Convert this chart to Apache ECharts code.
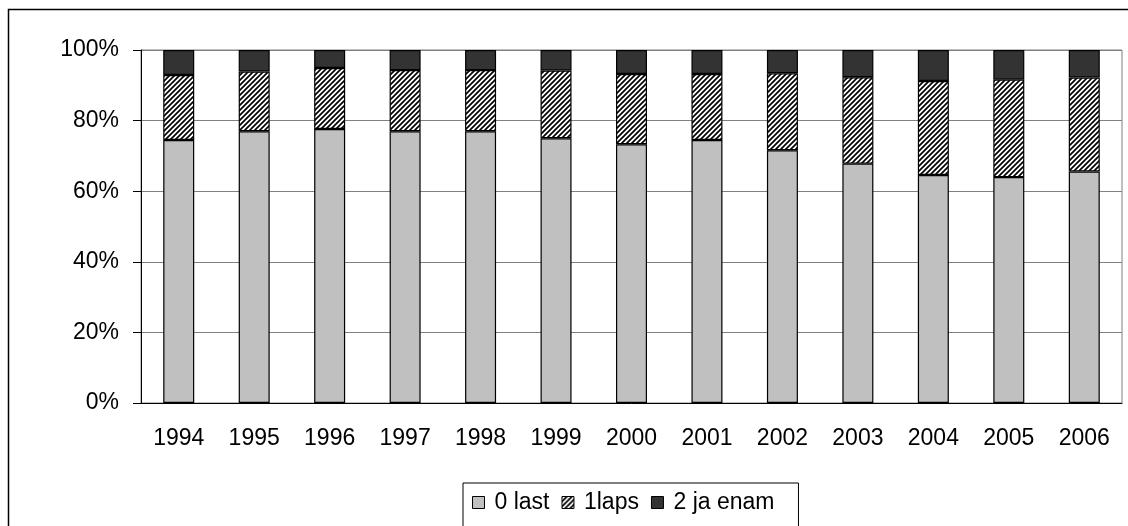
<!DOCTYPE html>
<html>
<head>
<meta charset="utf-8">
<title>Stacked percent bars</title>
<script src="https://cdn.jsdelivr.net/npm/echarts@6/dist/echarts.min.js"></script>
<style>
  html, body { margin: 0; padding: 0; background: #fff; }
</style>
</head>
<body>
	<div id="main" style="width: 1128px; height: 526px;"></div>

	<script type="text/javascript">
		// data (percent of each year)
		var years = ['1994', '1995', '1996', '1997', '1998', '1999', '2000', '2001', '2002', '2003', '2004', '2005', '2006'];
		var last0 = [74.5, 77.0, 77.6, 77.0, 77.0, 75.0, 73.3, 74.5, 71.6, 67.8, 64.6, 64.0, 65.6];
		var laps1 = [18.4, 16.9, 17.3, 17.3, 17.3, 19.2, 19.9, 18.7, 21.8, 24.5, 26.6, 27.6, 26.6];
		var enam2 = [7.1, 6.1, 5.1, 5.7, 5.7, 5.8, 6.8, 6.8, 6.6, 7.7, 8.8, 8.4, 7.8];
		var yTicks = [0, 20, 40, 60, 80, 100];

		// diagonal hatch for the middle series
		function hatch() {
			var c = document.createElement('canvas');
			c.width = 5; c.height = 5;
			var ctx = c.getContext('2d');
			ctx.fillStyle = '#fff';
			ctx.fillRect(0, 0, 5, 5);
			ctx.strokeStyle = '#000';
			ctx.lineWidth = 1.7;
			ctx.beginPath();
			ctx.moveTo(-1, 6); ctx.lineTo(6, -1);
			ctx.moveTo(-1, 1); ctx.lineTo(1, -1);
			ctx.moveTo(4, 6); ctx.lineTo(6, 4);
			ctx.stroke();
			return c;
		}

		var font = 'Liberation Sans, Arial, sans-serif';
		var myChart = echarts.init(document.getElementById('main'));

		var option = {
			animation: false,
			backgroundColor: '#fff',
			textStyle: { fontFamily: font, color: '#000' },
			grid: {
				left: 141, right: 6, top: 50, bottom: 123,
				show: true, borderColor: '#808080', borderWidth: 1
			},
			graphic: [{
				type: 'rect',
				shape: { x: 8.5, y: 9.5, width: 1200, height: 600 },
				style: { fill: 'none', stroke: '#000', lineWidth: 1.5 },
				z: -1
			}],
			legend: {
				left: 463, top: 483,
				padding: [8, 24, 16, 9],
				borderColor: '#000', borderWidth: 1,
				itemWidth: 12, itemHeight: 12, itemGap: 12,
				icon: 'rect',
				itemStyle: { borderColor: '#000', borderWidth: 1 },
				textStyle: { fontFamily: font, fontSize: 23, color: '#000', padding: [0, 0, 0, 5] },
				data: ['0 last', '1laps', '2 ja enam']
			},
			xAxis: {
				type: 'category',
				data: years,
				axisLine: { lineStyle: { color: '#000', width: 1 } },
				axisTick: { length: 7, lineStyle: { color: '#000' } },
				axisLabel: { fontSize: 23, color: '#000', margin: 24, fontFamily: font }
			},
			yAxis: {
				type: 'value',
				min: yTicks[0], max: yTicks[yTicks.length - 1], interval: 20,
				axisLine: { show: true, lineStyle: { color: '#000', width: 1 } },
				axisTick: { show: true, length: 8, lineStyle: { color: '#000' } },
				axisLabel: { fontSize: 23, color: '#000', margin: 22, formatter: '{value}%', fontFamily: font },
				splitLine: { lineStyle: { color: '#808080', width: 1 } }
			},
			series: [
				{
					name: '0 last', type: 'bar', stack: 'a', barWidth: 31,
					itemStyle: { color: '#C0C0C0', borderColor: '#000', borderWidth: 1.2 },
					data: last0
				},
				{
					name: '1laps', type: 'bar', stack: 'a', barWidth: 31,
					itemStyle: { color: { image: hatch(), repeat: 'repeat' }, borderColor: '#000', borderWidth: 1.2 },
					data: laps1
				},
				{
					name: '2 ja enam', type: 'bar', stack: 'a', barWidth: 31,
					itemStyle: { color: '#333333', borderColor: '#000', borderWidth: 1.2 },
					data: enam2
				}
			]
		};

		myChart.setOption(option);
	</script>
</body>
</html>
